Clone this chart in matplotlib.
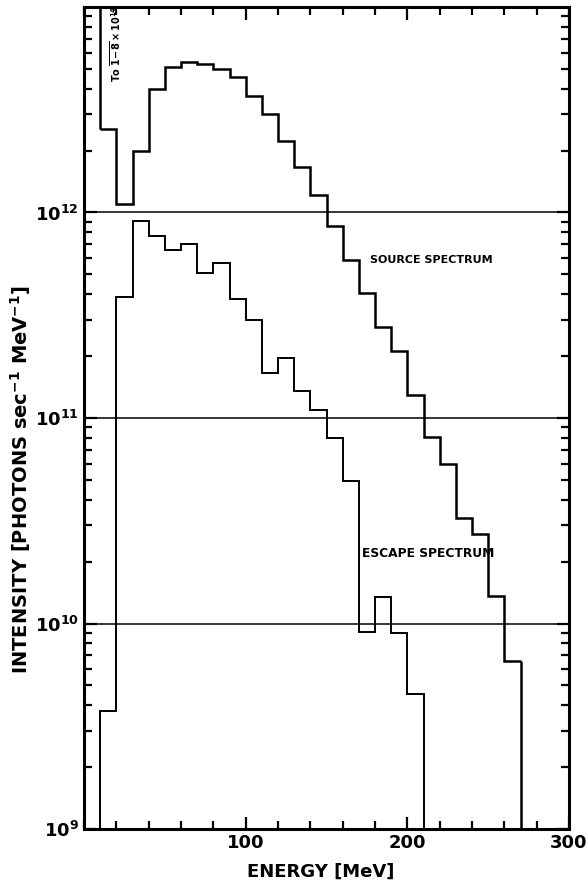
import numpy as np
import matplotlib
matplotlib.use("Agg")
import matplotlib.pyplot as plt
from matplotlib.ticker import FixedLocator, LogFormatterMathtext, MultipleLocator, NullFormatter, LogLocator

plt.rcParams['font.family'] = ['DejaVu Sans']
plt.rcParams['font.weight'] = 'bold'
plt.rcParams['axes.labelweight'] = 'bold'

# bin edges (MeV) and intensities
source_edges = np.arange(10, 280, 10)
source_vals = [2.55e12, 1.1e12, 2.0e12, 4.0e12, 5.1e12, 5.4e12, 5.25e12, 5.0e12,
               4.55e12, 3.7e12, 3.0e12, 2.23e12, 1.67e12, 1.22e12, 8.6e11, 5.9e11,
               4.06e11, 2.77e11, 2.13e11, 1.30e11, 8.1e10, 5.98e10, 3.25e10,
               2.72e10, 1.36e10, 6.6e9]
source_peak = 1.8e14  # off-scale value noted on the plot

escape_edges = np.arange(10, 220, 10)
escape_vals = [3.75e9, 3.88e11, 9.14e11, 7.69e11, 6.57e11, 7.02e11, 5.08e11, 5.65e11,
               3.80e11, 3.0e11, 1.65e11, 1.95e11, 1.36e11, 1.09e11, 7.96e10, 4.94e10,
               9.1e9, 1.35e10, 9.0e9, 4.56e9]

ref_levels = [1e10, 1e11, 1e12]
y_labelled = [1e9, 1e10, 1e11, 1e12]

fig = plt.figure(figsize=(5.88, 8.92), dpi=100)
ax = fig.add_axes([0.1429, 0.0706, 0.8248, 0.9216])

for lv in ref_levels:
    ax.axhline(lv, color="black", lw=1.1, zorder=1)

ax.stairs(source_vals, source_edges, baseline=None, color="black", lw=1.8)
ax.vlines(source_edges[0], source_vals[0], source_peak, color="black", lw=1.8)
ax.vlines(source_edges[-1], 1e8, source_vals[-1], color="black", lw=1.8)

ax.stairs(escape_vals, escape_edges, baseline=1e8, color="black", lw=1.4)

ax.set_yscale("log")
ax.set_xlim(0, 300)
ax.set_ylim(1e9, 1e13)

ax.set_xticks([100, 200, 300])
ax.xaxis.set_minor_locator(MultipleLocator(20))
ax.yaxis.set_major_locator(FixedLocator(y_labelled))
ax.yaxis.set_major_formatter(LogFormatterMathtext())
ax.yaxis.set_minor_locator(LogLocator(base=10, subs=np.arange(2, 10), numticks=20))
ax.yaxis.set_minor_formatter(NullFormatter())

ax.tick_params(which="both", direction="in", top=True, right=True, width=1.6, labelsize=13)
ax.tick_params(which="major", length=9)
ax.tick_params(which="minor", length=6)
for s in ax.spines.values():
    s.set_linewidth(2.2)

ax.set_xlabel("ENERGY [MeV]", fontsize=13)
ax.xaxis.set_label_coords(0.487, -0.041)
ax.set_ylabel(r"INTENSITY [PHOTONS sec$^{-1}$ MeV$^{-1}$]", fontsize=14)
ax.yaxis.set_label_coords(-0.105, 0.425)

ax.text(215, 5.9e11, "SOURCE SPECTRUM", fontsize=8, ha="center", va="center")
ax.text(213, 2.19e10, "ESCAPE SPECTRUM", fontsize=8.8, ha="center", va="center")
ax.text(19.5, 6.6e12, r"To $\overline{1\!-\!8}\times10^{14}$", fontsize=7,
        rotation=90, ha="center", va="center")

fig.savefig("out.png", dpi=100)
